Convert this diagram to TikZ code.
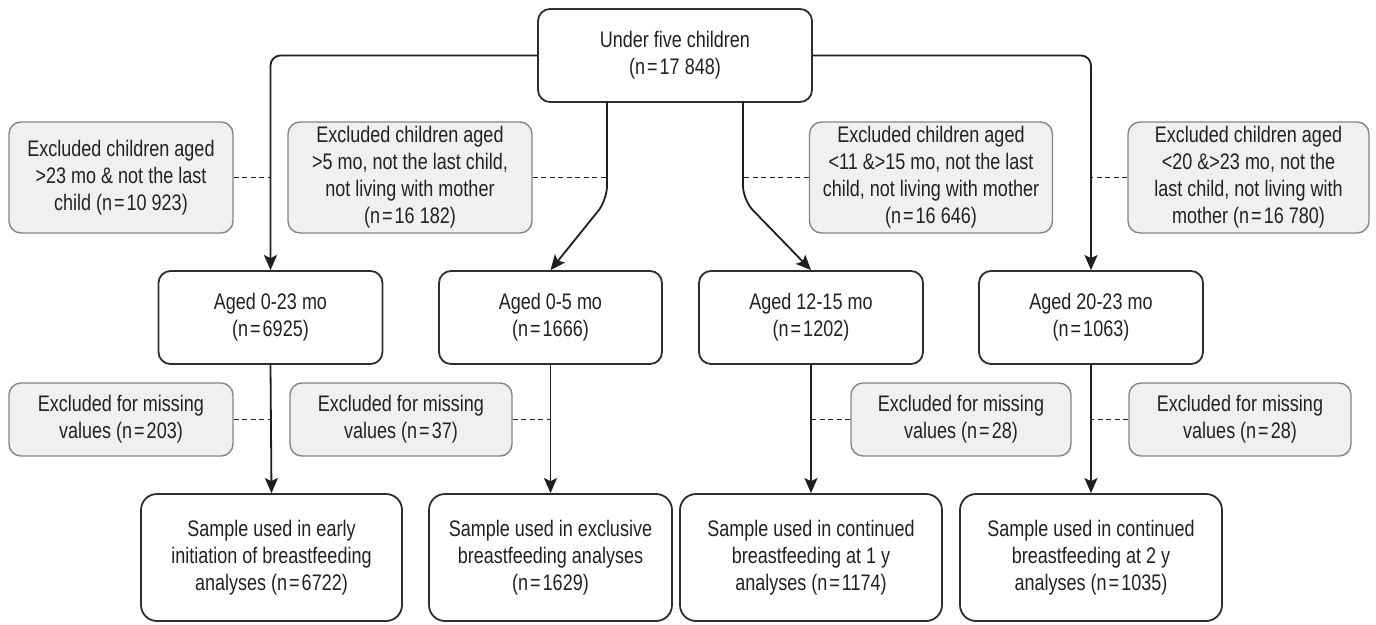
\documentclass[tikz,border=0pt]{standalone}
\usepackage{fontspec}
\setmainfont{Liberation Sans}[FakeStretch=0.8]
\usetikzlibrary{arrows.meta}
\definecolor{txt}{HTML}{222222}
\definecolor{boxline}{HTML}{2E2E2E}
\definecolor{greyfill}{HTML}{EFF0F0}
\definecolor{greyline}{HTML}{858585}
\newcommand{\eqn}{\kern2pt=\kern2pt}
\begin{document}
\begin{tikzpicture}[x=1pt,y=-1pt,
  every node/.style={font=\fontsize{22.5}{27}\selectfont, text=txt, align=center, inner sep=0pt},
  mainbox/.style={draw=boxline, line width=1.8pt, rounded corners=12pt, fill=white},
  greybox/.style={draw=greyline, line width=1.4pt, rounded corners=12pt, fill=greyfill},
  arr/.style={draw=black!88, line width=1.8pt, -{Stealth[length=15pt,width=13pt,inset=3pt]}},
  dashlink/.style={draw=black!85, line width=1.5pt, dash pattern=on 5pt off 3.5pt}]
\useasboundingbox (0,0) rectangle (1376,624);
% top
\node[mainbox, minimum width=274pt, minimum height=93pt] (top) at (675,55.5) {Under five children\\(n\eqn17 848)};
% exclusion boxes row 1
\node[greybox, minimum width=224pt, minimum height=111pt] (e1) at (121,177.5) {Excluded children aged\\>23 mo \& not the last\\child (n\eqn10 923)};
\node[greybox, minimum width=244pt, minimum height=111pt] (e2) at (410,177.5) {Excluded children aged\\>5 mo, not the last child,\\not living with mother\\(n\eqn16 182)};
\node[greybox, minimum width=243pt, minimum height=111pt] (e3) at (931,177.5) {Excluded children aged\\<11 \&>15 mo, not the last\\child, not living with mother\\(n\eqn16 646)};
\node[greybox, minimum width=241pt, minimum height=111pt] (e4) at (1248.5,177.5) {Excluded children aged\\<20 \&>23 mo, not the\\last child, not living with\\mother (n\eqn16 780)};
% aged boxes
\node[mainbox, minimum width=224pt, minimum height=93pt] (a1) at (270.5,317.5) {Aged 0-23 mo\\(n\eqn6925)};
\node[mainbox, minimum width=223pt, minimum height=93pt] (a2) at (550.5,317.5) {Aged 0-5 mo\\(n\eqn1666)};
\node[mainbox, minimum width=224pt, minimum height=93pt] (a3) at (811,317.5) {Aged 12-15 mo\\(n\eqn1202)};
\node[mainbox, minimum width=224pt, minimum height=93pt] (a4) at (1091,317.5) {Aged 20-23 mo\\(n\eqn1063)};
% missing boxes
\node[greybox, minimum width=224pt, minimum height=73pt] (m1) at (121,419.5) {Excluded for missing\\values (n\eqn203)};
\node[greybox, minimum width=222pt, minimum height=73pt] (m2) at (401,419.5) {Excluded for missing\\values (n\eqn37)};
\node[greybox, minimum width=220pt, minimum height=73pt] (m3) at (961,419.5) {Excluded for missing\\values (n\eqn28)};
\node[greybox, minimum width=222pt, minimum height=73pt] (m4) at (1240,419.5) {Excluded for missing\\values (n\eqn28)};
% sample boxes
\node[mainbox, rounded corners=16pt, minimum width=261pt, minimum height=127pt] (s1) at (271.5,557.5) {Sample used in early\\initiation of breastfeeding\\analyses (n\eqn6722)};
\node[mainbox, rounded corners=16pt, minimum width=243pt, minimum height=127pt] (s2) at (550.5,557.5) {Sample used in exclusive\\breastfeeding analyses\\(n\eqn1629)};
\node[mainbox, rounded corners=16pt, minimum width=262pt, minimum height=127pt] (s3) at (811,557.5) {Sample used in continued\\breastfeeding at 1 y\\analyses (n\eqn1174)};
\node[mainbox, rounded corners=16pt, minimum width=262pt, minimum height=127pt] (s4) at (1091,557.5) {Sample used in continued\\breastfeeding at 2 y\\analyses (n\eqn1035)};
% junction coordinates
\coordinate (jl) at (607,102);
\coordinate (jr) at (743,102);
\coordinate (bl) at (607,200);
\coordinate (br) at (743,200);
% connectors from top
\draw[arr, rounded corners=10pt] (top.west) -| (a1.north);
\draw[arr, rounded corners=10pt] (top.east) -| (a4.north);
\draw[arr, rounded corners=14pt] (jl) -- (bl) -- (a2.north);
\draw[arr, rounded corners=14pt] (jr) -- (br) -- (a3.north);
% dashed links row 1
\draw[dashlink] (e1.east) -- (e1.east -| a1.north);
\draw[dashlink] (e2.east) -- (e2.east -| jl);
\draw[dashlink] (e3.west) -- (e3.west -| jr);
\draw[dashlink] (e4.west) -- (e4.west -| a4.north);
% aged to sample
\draw[arr] (a1.south) -- (s1.north);
\draw[arr] (a2.south) -- (s2.north);
\draw[arr] (a3.south) -- (s3.north);
\draw[arr] (a4.south) -- (s4.north);
% dashed links row 2
\draw[dashlink] (m1.east) -- (m1.east -| a1.south);
\draw[dashlink] (m2.east) -- (m2.east -| a2.south);
\draw[dashlink] (m3.west) -- (m3.west -| a3.south);
\draw[dashlink] (m4.west) -- (m4.west -| a4.south);
\end{tikzpicture}
\end{document}
